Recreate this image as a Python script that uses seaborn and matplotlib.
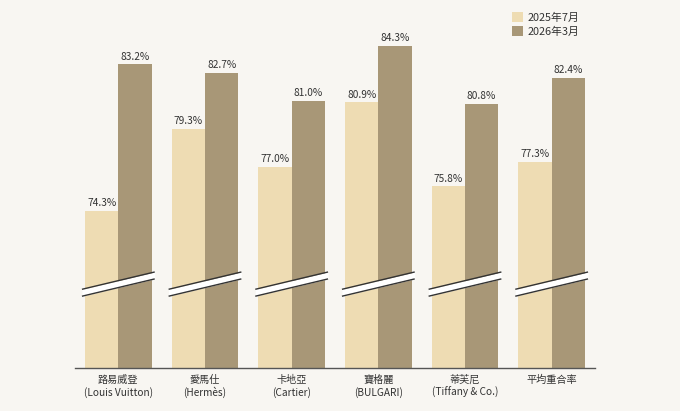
import matplotlib
matplotlib.use("Agg")
import matplotlib.pyplot as plt
import seaborn as sns
import pandas as pd

brands = ["路易威登\n(Louis Vuitton)", "愛馬仕\n(Hermès)", "卡地亞\n(Cartier)",
          "寶格麗\n(BULGARI)", "蒂芙尼\n(Tiffany & Co.)", "平均重合率"]
jul2025 = [74.3, 79.3, 77.0, 80.9, 75.8, 77.3]
mar2026 = [83.2, 82.7, 81.0, 84.3, 80.8, 82.4]
series = ["2025年7月", "2026年3月"]
colors = ["#eedcb3", "#a89777"]

df = pd.DataFrame({"brand": brands * 2,
                   "value": jul2025 + mar2026,
                   "series": [series[0]] * 6 + [series[1]] * 6})

sns.set_theme(style="white")
plt.rcParams['font.family'] = ['Noto Sans CJK TC', 'DejaVu Sans']
bg = "#f8f6f2"
fig = plt.figure(figsize=(6.8, 4.11), dpi=100, facecolor=bg)
ax = fig.add_axes([75/680, 1-368/411, 520/680, 368/411])
ax.set_facecolor(bg)
sns.barplot(data=df, x="brand", y="value", hue="series", palette=colors,
            width=0.77, gap=0, saturation=1, ax=ax, legend=True, linewidth=0)
ymin = 64.8
ax.set_ylim(ymin, ymin + 368/16.5)
ax.set_xlim(-0.5, 5.5)
for c in ax.containers:
    ax.bar_label(c, fmt="%.1f%%", fontsize=7.3, color="#333333", padding=2)

# break marks
th = 0.42
for i in range(len(brands)):
    x0, x1 = i - 0.42, i + 0.42
    ax.fill_between([x0, x1], [69.15, 70.2], [69.15 + th, 70.2 + th],
                    color="white", zorder=4, lw=0)
    for off in (0.0, th):
        ax.plot([x0, x1], [69.15 + off, 70.2 + off], color="#333333", lw=1.0,
                solid_capstyle="butt", zorder=5)

for s in ["top", "right", "left"]:
    ax.spines[s].set_visible(False)
ax.spines["bottom"].set_color("#555555")
ax.spines["bottom"].set_linewidth(1)
ax.set_yticks([])
ax.set_xlabel("")
ax.set_ylabel("")
ax.tick_params(axis="x", length=0, labelsize=7.3, colors="#333333", pad=5)
leg = ax.legend(loc="upper left", bbox_to_anchor=(433/520, 1 - 8/368),
                frameon=False, fontsize=7.8, handlelength=1.0, handleheight=1.0,
                handletextpad=0.4, labelspacing=0.3, borderaxespad=0)
for t in leg.get_texts():
    t.set_color("#333333")
fig.savefig("out.png", dpi=100, facecolor=bg)
